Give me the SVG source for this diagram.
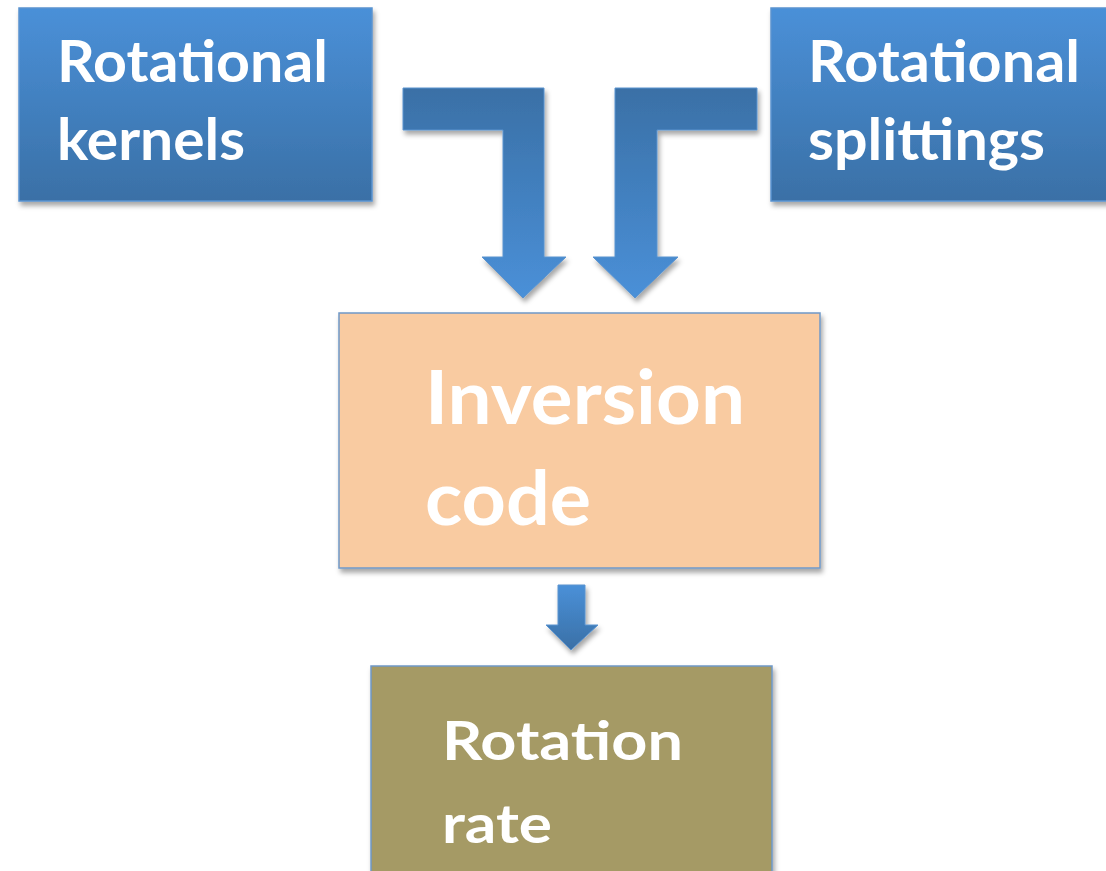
<svg xmlns="http://www.w3.org/2000/svg" width="1106" height="871" viewBox="0 0 1106 871">
<defs>
<linearGradient id="gBox" x1="0" y1="0" x2="0" y2="1">
<stop offset="0" stop-color="#4a90d8"/>
<stop offset="1" stop-color="#3a70a6"/>
</linearGradient>
<linearGradient id="gArrowL" gradientUnits="userSpaceOnUse" x1="0" y1="88" x2="0" y2="298">
<stop offset="0" stop-color="#3a70a6"/>
<stop offset="1" stop-color="#4a90d8"/>
</linearGradient>
<linearGradient id="gArrowS" gradientUnits="userSpaceOnUse" x1="0" y1="585" x2="0" y2="650">
<stop offset="0" stop-color="#4a90d8"/>
<stop offset="1" stop-color="#3a70a6"/>
</linearGradient>
<filter id="sh" x="-10%" y="-10%" width="125%" height="125%">
<feDropShadow dx="2" dy="4" stdDeviation="2.5" flood-color="#000" flood-opacity="0.35"/>
</filter>
<style>
.lbl{font-family:Lato,"Open Sans","Liberation Sans",sans-serif;font-weight:bold;fill:#ffffff;}
.blue{fill:url(#gBox);stroke:#5a93cf;stroke-width:1.5;}
.arr{stroke:#5a93cf;stroke-width:1;}
</style>
</defs>
<rect width="1106" height="871" fill="#ffffff"/>
<g id="connectors">
<path class="arr" fill="url(#gArrowL)" filter="url(#sh)" d="M403,88 H544 V257 H566 L523,298 L482,257 H503 V130 H403 Z"/>
<path class="arr" fill="url(#gArrowL)" filter="url(#sh)" d="M757,88 H615 V257 H593 L635,298 L678,257 H657 V130 H757 Z"/>
<path class="arr" fill="url(#gArrowS)" filter="url(#sh)" d="M558,585 H585 V625 H598 L571,650 L546,625 H558 Z"/>
</g>
<g id="node-kernels">
<rect class="blue" x="19" y="8" width="353" height="193" filter="url(#sh)"/>
<text class="lbl" x="57" y="82" font-size="58" textLength="271" lengthAdjust="spacingAndGlyphs">Rotational</text>
<text class="lbl" x="57" y="160" font-size="58" textLength="188" lengthAdjust="spacingAndGlyphs">kernels</text>
</g>
<g id="node-splittings">
<rect class="blue" x="771" y="8" width="345" height="193" filter="url(#sh)"/>
<text class="lbl" x="808" y="82" font-size="58" textLength="272" lengthAdjust="spacingAndGlyphs">Rotational</text>
<text class="lbl" x="808" y="160" font-size="58" textLength="237" lengthAdjust="spacingAndGlyphs">splittings</text>
</g>
<g id="node-inversion">
<rect x="339" y="313" width="481" height="255" fill="#f9cba1" stroke="#6f98c8" stroke-width="1.5" filter="url(#sh)"/>
<text class="lbl" x="425" y="424" font-size="74" textLength="320" lengthAdjust="spacingAndGlyphs">Inversion</text>
<text class="lbl" x="425" y="525" font-size="74" textLength="166" lengthAdjust="spacingAndGlyphs">code</text>
</g>
<g id="node-rate">
<rect x="371" y="666" width="401" height="215" fill="#a59a65" stroke="#6f98c8" stroke-width="1.5" filter="url(#sh)"/>
<text class="lbl" x="442" y="760" font-size="54" textLength="241" lengthAdjust="spacingAndGlyphs">Rotation</text>
<text class="lbl" x="442" y="843" font-size="54" textLength="110" lengthAdjust="spacingAndGlyphs">rate</text>
</g>
</svg>
